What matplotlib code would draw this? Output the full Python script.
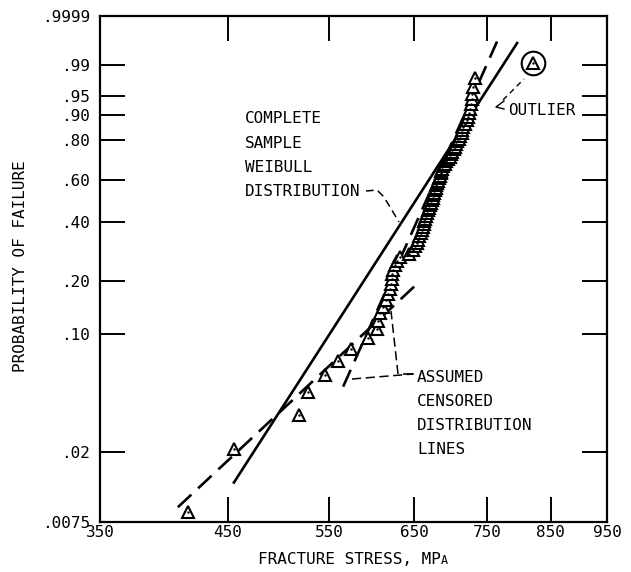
import numpy as np
import matplotlib
matplotlib.use("Agg")
import matplotlib.pyplot as plt
from matplotlib.lines import Line2D

# ---------------- data ----------------
stress_mpa = [416, 456, 518, 527, 545, 559, 574, 593, 604, 605, 607, 611, 615,
              617, 619, 621, 622, 622.5, 623, 626, 628, 632, 643, 648, 651, 653,
              654.5, 656.5, 658, 660, 661, 662, 663, 664, 665, 666, 668, 669,
              670, 671.5, 673, 674, 675, 675.5, 677, 678, 679, 679.5, 681, 682,
              683.5, 685, 685.5, 686, 687.5, 690, 691.5, 694, 697, 698.5, 700.5,
              702.5, 704, 706, 707.5, 709.5, 711.5, 714, 714.5, 715, 718, 721,
              722, 723.5, 726, 726.5, 728, 728.5, 729, 732, 821]

# Weibull lines: modulus, characteristic strength, stress range
complete_fit = dict(m=11.07, s0=674.0, lo=455.0, hi=797.0)
censored_upper = dict(m=16.0, s0=681.0, lo=565.0, hi=765.0)
censored_lower = dict(m=6.66, s0=824.0, lo=408.0, hi=655.0)

x_ticks = [350, 450, 550, 650, 750, 850, 950]
y_ticks = [0.0075, 0.02, 0.10, 0.20, 0.40, 0.60, 0.80, 0.90, 0.95, 0.99, 0.9999]
y_labels = [".0075", ".02", ".10", ".20", ".40", ".60", ".80", ".90", ".95", ".99", ".9999"]

# ---------------- plotting positions (median ranks) ----------------
s = np.sort(np.array(stress_mpa, dtype=float))
n = len(s)
ranks = np.arange(1, n + 1)
prob = (ranks - 0.3) / (n + 0.4)

plt.rcParams['font.family'] = ['DejaVu Sans Mono', 'DejaVu Sans']

W, H = 631, 572
fig = plt.figure(figsize=(W / 100, H / 100), dpi=100)
ax = fig.add_axes([100 / W, 1 - 522 / H, 507 / W, 506 / H])


def fwd(F):
    F = np.clip(np.asarray(F, dtype=float), 1e-9, 1 - 1e-12)
    return np.log(-np.log1p(-F))


def inv(Wv):
    return -np.expm1(-np.exp(np.asarray(Wv, dtype=float)))


ax.set_xscale('log')
ax.set_yscale('function', functions=(fwd, inv))
ax.set_xlim(350, 950)
ax.set_ylim(0.0075, 0.9999)


def weib_line(p, **kw):
    xs = np.linspace(p['lo'], p['hi'], 200)
    ys = 1 - np.exp(-(xs / p['s0']) ** p['m'])
    ax.plot(xs, ys, **kw)


weib_line(complete_fit, color='black', lw=1.9, solid_capstyle='butt', zorder=3)
weib_line(censored_upper, color='black', lw=1.9, dashes=(7, 3.5), zorder=3)
weib_line(censored_lower, color='black', lw=1.9, dashes=(7, 3.5), zorder=3)

ax.plot(s, prob, linestyle='none', marker='^', ms=8.5, mfc='white', mec='black',
        mew=1.5, zorder=4)
ax.plot(s, prob, linestyle='none', marker='.', ms=1.5, color='black', zorder=5)
# outlier circle
ax.plot(s[-1:], prob[-1:], linestyle='none', marker='o', ms=17, mfc='none',
        mec='black', mew=1.5, zorder=5)

# ticks
ax.set_xticks(x_ticks)
ax.set_xticklabels([str(v) for v in x_ticks])
ax.xaxis.set_minor_locator(matplotlib.ticker.NullLocator())
ax.set_yticks(y_ticks)
ax.set_yticklabels(y_labels)
ax.yaxis.set_minor_locator(matplotlib.ticker.NullLocator())
ax.tick_params(axis='both', which='major', direction='in', length=18, width=1.4,
               top=True, right=True, labelsize=11.5)
ax.tick_params(axis='x', pad=2)
ax.tick_params(axis='y', pad=7)
for sp in ax.spines.values():
    sp.set_linewidth(1.6)

# ---------------- annotations (pixel layout, top-left origin) ----------------
def fp(px, py):
    return px / W, 1 - py / H


def ftext(px, py, txt, **kw):
    x, y = fp(px, py)
    return fig.text(x, y, txt, fontsize=11.5, va='baseline', ha='left', **kw)


def fline(pts, **kw):
    xs = [p[0] / W for p in pts]
    ys = [1 - p[1] / H for p in pts]
    fig.add_artist(Line2D(xs, ys, transform=fig.transFigure, color='black', **kw))


for i, t in enumerate(["COMPLETE", "SAMPLE", "WEIBULL", "DISTRIBUTION"]):
    ftext(245, 123 + 24.5 * i, t)
for i, t in enumerate(["ASSUMED", "CENSORED", "DISTRIBUTION", "LINES"]):
    ftext(417, 382 + 24 * i, t)
ftext(508, 115, "OUTLIER")

# leaders
fline([(366, 191), (377, 190), (384, 197), (399, 222)], lw=1.1, dashes=(5, 3))
fline([(352, 379), (413, 374)], lw=1.1, dashes=(6, 3))
fline([(398, 374), (391, 311)], lw=1.1, dashes=(6, 3))
fline([(404, 374), (413, 374)], lw=1.2)
fline([(504, 101), (496, 107), (504, 109)], lw=1.0)
fline([(503, 100), (524, 79)], lw=1.0, dashes=(4, 3))

# axis labels
xl = ftext(258, 564, "FRACTURE STRESS, MP")
ax.annotate("A", xy=(1, 0), xycoords=xl, fontsize=8.5, va='bottom', ha='left')
fig.text(21 / W, 1 - 266 / H, "PROBABILITY OF FAILURE", rotation=90,
         fontsize=11.5, ha='center', va='center')

fig.savefig("out.png", dpi=100)
